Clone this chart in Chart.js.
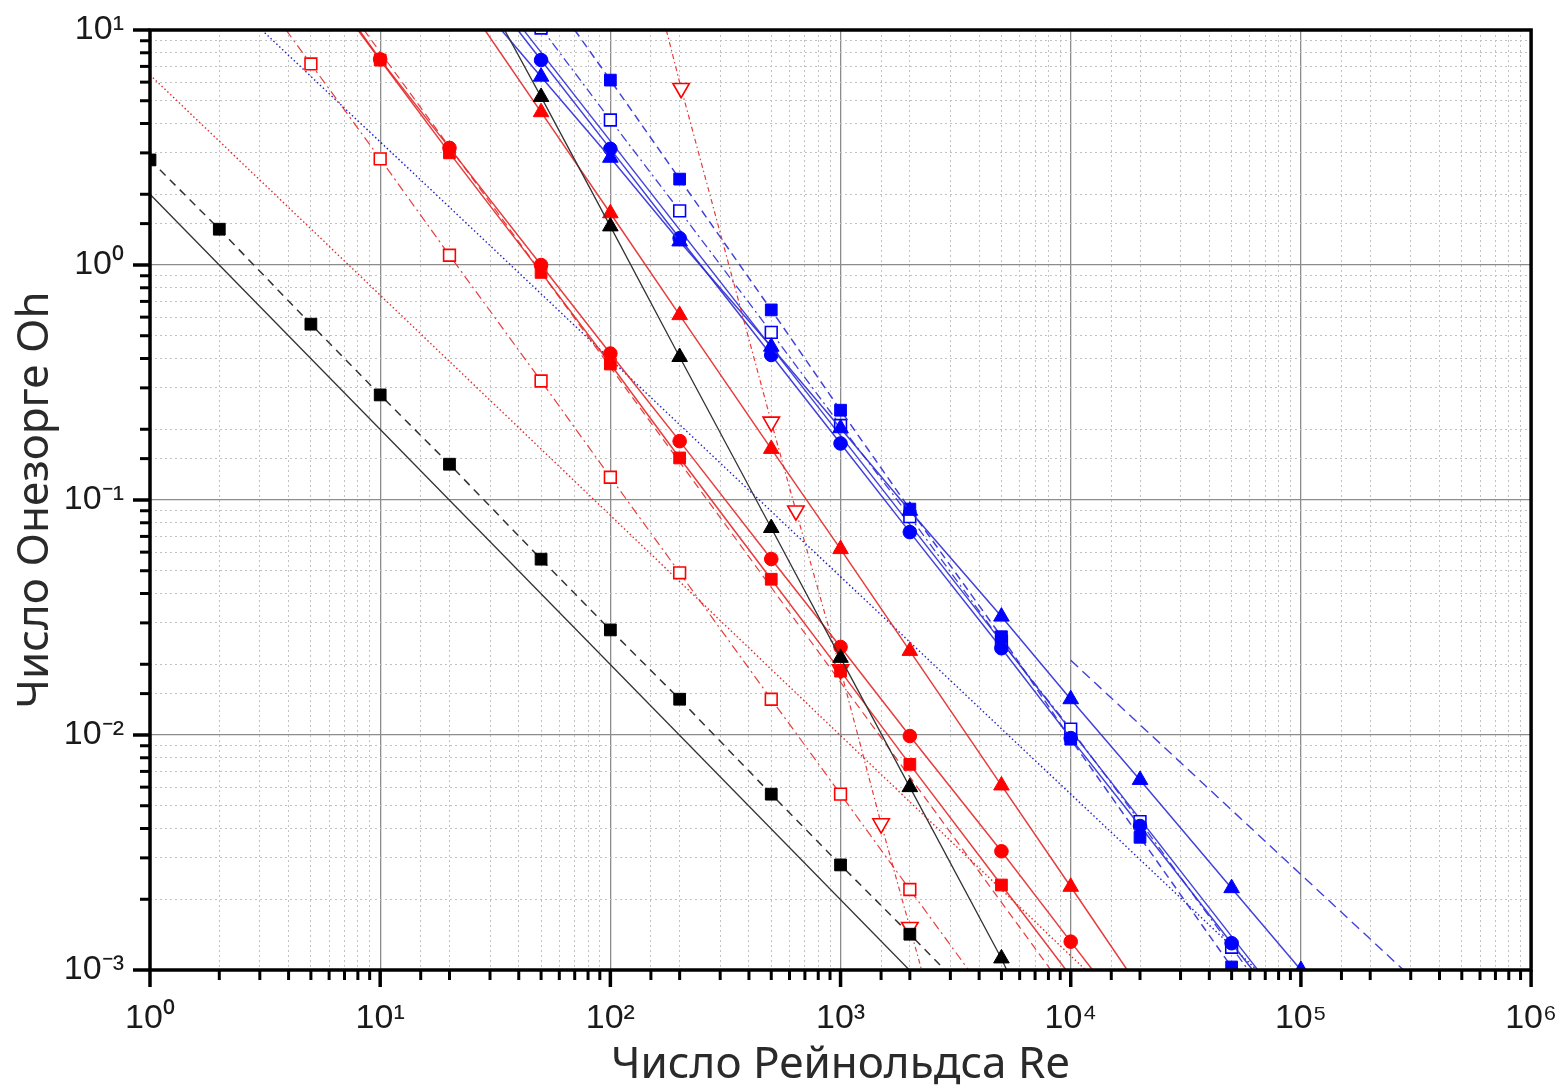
<!DOCTYPE html>
<html>
<head>
<meta charset="utf-8">
<script src="https://cdn.jsdelivr.net/npm/chart.js@4.4.1/dist/chart.umd.min.js"></script>
<style>
  html, body { margin: 0; padding: 0; background: #fff; }
  #wrap { width: 1568px; height: 1087px; }
</style>
</head>
<body>
<div id="wrap"><canvas id="ohChart" width="1568" height="1087"></canvas></div>
<script>
// DATA (Re, Oh); *Start / *End = where a line leaves the frame (no marker)

// black
const reBlkLine = [1, 1990];
const ohBlkLine = [2.0, 0.001];

const reBlkSq = [1, 2, 5, 10, 20, 50, 100, 200, 500, 1000, 2000];
const ohBlkSq = [2.8, 1.42, 0.56, 0.28, 0.142, 0.056, 0.028, 0.0142, 0.0056, 0.0028, 0.00142];
const blkSqEnd = [2840, 0.001];

const reBlkTri = [50, 100, 200, 500, 1000, 2000, 5000];
const ohBlkTri = [5.19, 1.46, 0.406, 0.076, 0.0213, 0.006, 0.00112];
const blkTriStart = [34.7, 10];
const blkTriEnd = [5270, 0.001];

// red
const reRedSq = [10, 20, 50, 100, 200, 500, 1000, 2000, 5000];
const ohRedSq = [7.45, 3.0, 0.93, 0.379, 0.151, 0.046, 0.0187, 0.0075, 0.0023];
const redSqStart = [8.0, 10];
const redSqEnd = [9540, 0.001];

const reRedCirc = [10, 20, 50, 100, 200, 500, 1000, 2000, 5000, 10000];
const ohRedCirc = [7.5, 3.15, 1.0, 0.42, 0.178, 0.0561, 0.0237, 0.0099, 0.0032, 0.00132];
const redCircStart = [8.1, 10];
const redCircEnd = [12440, 0.001];

const reRedTri = [50, 100, 200, 500, 1000, 2000, 5000, 10000];
const ohRedTri = [4.47, 1.66, 0.612, 0.165, 0.0618, 0.0228, 0.0061, 0.00226];
const redTriStart = [28.5, 10];
const redTriEnd = [17600, 0.001];

const reRedOpenSq = [5, 10, 20, 50, 100, 200, 500, 1000, 2000];
const ohRedOpenSq = [7.17, 2.83, 1.1, 0.321, 0.125, 0.049, 0.0142, 0.0056, 0.0022];
const redOpenSqStart = [3.9, 10];
const redOpenSqEnd = [3600, 0.001];

const reRedInvTri = [203, 500, 640, 1000, 1500, 2000];
const ohRedInvTri = [5.65, 0.215, 0.09, 0.019, 0.0042, 0.00152];
const redInvTriStart = [175, 10];
const redInvTriEnd = [2250, 0.001];

const reRedDash = [8.5, 8200];
const ohRedDash = [10, 0.001];

const reRedDot = [1, 11600];
const ohRedDot = [6.44, 0.001];

// blue
const reBluSq = [100, 200, 500, 1000, 2000, 5000, 10000, 20000, 50000];
const ohBluSq = [6.12, 2.32, 0.644, 0.241, 0.0915, 0.0262, 0.0096, 0.00367, 0.00103];
const bluSqStart = [70, 10];

const reBluOpenSq = [50, 100, 200, 500, 1000, 2000, 5000, 10000, 20000, 50000];
const ohBluOpenSq = [10.2, 4.14, 1.7, 0.517, 0.2075, 0.085, 0.025, 0.0106, 0.00428, 0.00125];
const bluOpenSqEnd = [59000, 0.001];

const reBluCirc = [50, 100, 200, 500, 1000, 2000, 5000, 10000, 20000, 50000];
const ohBluCirc = [7.45, 3.12, 1.3, 0.414, 0.174, 0.073, 0.0234, 0.0097, 0.0041, 0.0013];
const bluCircStart = [39.6, 10];
const bluCircEnd = [61700, 0.001];

const reBluTri = [50, 100, 200, 500, 1000, 2000, 5000, 10000, 20000, 50000, 100000];
const ohBluTri = [6.33, 2.86, 1.26, 0.449, 0.202, 0.09, 0.0319, 0.0142, 0.00644, 0.00223, 0.001];
const bluTriStart = [33.6, 10];

const reBluSolid = [42, 65000];
const ohBluSolid = [10, 0.001];

const reBluDot = [3.06, 64400];
const ohBluDot = [10, 0.001];

const reBluDash = [10000, 279000];
const ohBluDash = [0.0208, 0.001];

const xTickRange = [1, 1e6];
const yTickRange = [1e-3, 10];

const xTitle = 'Число Рейнольдса Re';
const yTitle = 'Число Онезорге Oh';

// STYLE
const RED = '#ff0000', RED_LINE = 'rgba(228,40,40,0.9)';
const BLUE = '#0000ff', BLUE_LINE = 'rgba(45,45,215,0.9)';
const BLACK = '#000000', BLACK_LINE = '#333333';
const TICK_FONT = "'Liberation Sans', Arial, sans-serif";
const TITLE_FONT = "'Noto Sans', 'Open Sans', sans-serif";

const SUP = { '0': '⁰', '1': '¹', '2': '²', '3': '³', '4': '⁴', '5': '⁵', '6': '⁶', '-': '⁻' };
const isPow10 = v => Math.abs(Math.log10(v) - Math.round(Math.log10(v))) < 1e-9;
const powLabel = v => '10' + String(Math.round(Math.log10(v))).split('').map(c => SUP[c]).join('');

function pts(re, oh, start, end) {
    const d = re.map((x, i) => ({ x: x, y: oh[i] }));
    if (start) d.unshift({ x: start[0], y: start[1], edge: true });
    if (end) d.push({ x: end[0], y: end[1], edge: true });
    return d;
}

function series(label, data, st) {
    return {
        label: label,
        data: data,
        borderColor: st.line,
        borderWidth: st.w || 1.5,
        borderDash: st.dash || [],
        pointStyle: st.marker || 'circle',
        pointRadius: c => (!st.marker || (c.raw && c.raw.edge)) ? 0 : st.r,
        pointRotation: st.rot || 0,
        pointBackgroundColor: st.open ? '#ffffff' : st.mark,
        pointBorderColor: st.mark,
        pointBorderWidth: st.open ? 1.6 : 1,
        tension: 0,
        fill: false,
        clip: 0
    };
}

// first dataset is drawn on top
const datasets = [
    series('blk-sq', pts(reBlkSq, ohBlkSq, null, blkSqEnd), { line: BLACK_LINE, mark: BLACK, marker: 'rect', r: 8.3, dash: [8, 6] }),
    series('blk-tri', pts(reBlkTri, ohBlkTri, blkTriStart, blkTriEnd), { line: BLACK_LINE, mark: BLACK, marker: 'triangle', r: 9, w: 1.3 }),
    series('blk-line', pts(reBlkLine, ohBlkLine), { line: BLACK_LINE, w: 1.3 }),

    series('red-tri', pts(reRedTri, ohRedTri, redTriStart, redTriEnd), { line: RED_LINE, mark: RED, marker: 'triangle', r: 9 }),
    series('red-circ', pts(reRedCirc, ohRedCirc, redCircStart, redCircEnd), { line: RED_LINE, mark: RED, marker: 'circle', r: 6.8 }),
    series('red-sq', pts(reRedSq, ohRedSq, redSqStart, redSqEnd), { line: RED_LINE, mark: RED, marker: 'rect', r: 8.3 }),
    series('red-open-sq', pts(reRedOpenSq, ohRedOpenSq, redOpenSqStart, redOpenSqEnd), { line: RED_LINE, mark: RED, marker: 'rect', r: 8.3, open: true, w: 1.2, dash: [9, 4, 2, 4] }),
    series('red-inv-tri', pts(reRedInvTri, ohRedInvTri, redInvTriStart, redInvTriEnd), { line: RED_LINE, mark: RED, marker: 'triangle', r: 9.5, rot: 180, open: true, w: 1.2, dash: [5, 3, 1.5, 3] }),
    series('red-dash', pts(reRedDash, ohRedDash), { line: RED_LINE, w: 1.2, dash: [8, 5] }),
    series('red-dot', pts(reRedDot, ohRedDot), { line: 'rgba(225,30,30,0.95)', w: 1.4, dash: [1.5, 2.5] }),

    series('blu-tri', pts(reBluTri, ohBluTri, bluTriStart), { line: BLUE_LINE, mark: BLUE, marker: 'triangle', r: 9 }),
    series('blu-sq', pts(reBluSq, ohBluSq, bluSqStart), { line: BLUE_LINE, mark: BLUE, marker: 'rect', r: 8.3, dash: [8, 5] }),
    series('blu-circ', pts(reBluCirc, ohBluCirc, bluCircStart, bluCircEnd), { line: BLUE_LINE, mark: BLUE, marker: 'circle', r: 6.8 }),
    series('blu-open-sq', pts(reBluOpenSq, ohBluOpenSq, null, bluOpenSqEnd), { line: BLUE_LINE, mark: BLUE, marker: 'rect', r: 8.3, open: true, w: 1.3, dash: [9, 4, 2, 4] }),
    series('blu-solid', pts(reBluSolid, ohBluSolid), { line: BLUE_LINE, w: 1.3 }),
    series('blu-dash', pts(reBluDash, ohBluDash), { line: BLUE_LINE, w: 1.4, dash: [10, 6] }),
    series('blu-dot', pts(reBluDot, ohBluDot), { line: 'rgba(20,20,200,0.95)', w: 1.4, dash: [1.5, 2.5] })
];

// frame + outward ticks (major long, minor short)
const frameTicks = {
    id: 'frameTicks',
    afterDraw(chart) {
        const { ctx, chartArea: a, scales } = chart;
        ctx.save();
        ctx.strokeStyle = '#000';
        ctx.lineCap = 'butt';
        scales.x.ticks.forEach(t => {
            const px = scales.x.getPixelForValue(t.value);
            const major = isPow10(t.value);
            ctx.lineWidth = major ? 3.5 : 3;
            ctx.beginPath();
            ctx.moveTo(px, a.bottom);
            ctx.lineTo(px, a.bottom + (major ? 17 : 10));
            ctx.stroke();
        });
        scales.y.ticks.forEach(t => {
            const py = scales.y.getPixelForValue(t.value);
            const major = isPow10(t.value);
            ctx.lineWidth = major ? 3.5 : 3;
            ctx.beginPath();
            ctx.moveTo(a.left, py);
            ctx.lineTo(a.left - (major ? 17 : 10), py);
            ctx.stroke();
        });
        ctx.lineWidth = 3.5;
        ctx.strokeRect(a.left, a.top, a.right - a.left, a.bottom - a.top);
        ctx.restore();
    }
};

function axis(range, title, isX) {
    return {
        type: 'logarithmic',
        min: range[0],
        max: range[1],
        afterBuildTicks: s => { s.ticks = s.ticks.filter(t => t.value >= range[0] * 0.999 && t.value <= range[1] * 1.001); },
        afterFit: s => { if (isX) s.height = 117; else s.width = 150; },
        grid: {
            color: c => (c.tick && isPow10(c.tick.value)) ? '#8c8c8c' : '#c2c2c2',
            lineWidth: c => (c.tick && isPow10(c.tick.value)) ? 1.3 : 1,
            drawTicks: true,
            tickLength: 17,
            tickColor: 'rgba(0,0,0,0)'
        },
        border: {
            display: false,
            dash: c => (c.tick && isPow10(c.tick.value)) ? [] : [2, 3]
        },
        ticks: {
            autoSkip: false,
            maxRotation: 0,
            minRotation: 0,
            padding: isX ? 11 : 9,
            color: '#1a1a1a',
            font: { family: TICK_FONT, size: 34 },
            callback: v => isPow10(v) ? powLabel(v) : ''
        },
        title: {
            display: true,
            text: title,
            color: '#2a2a2a',
            font: { family: TITLE_FONT, size: 44, lineHeight: 1 },
            padding: isX ? { top: 0, bottom: 0 } : { top: 13, bottom: 0 }
        }
    };
}

new Chart(document.getElementById('ohChart').getContext('2d'), {
    type: 'line',
    data: { datasets: datasets },
    options: {
        responsive: false,
        animation: false,
        events: [],
        layout: { padding: { top: 30, right: 35, left: 0, bottom: 0 } },
        plugins: { legend: { display: false }, tooltip: { enabled: false } },
        scales: {
            x: axis(xTickRange, xTitle, true),
            y: axis(yTickRange, yTitle, false)
        }
    },
    plugins: [frameTicks]
});
</script>
</body>
</html>
